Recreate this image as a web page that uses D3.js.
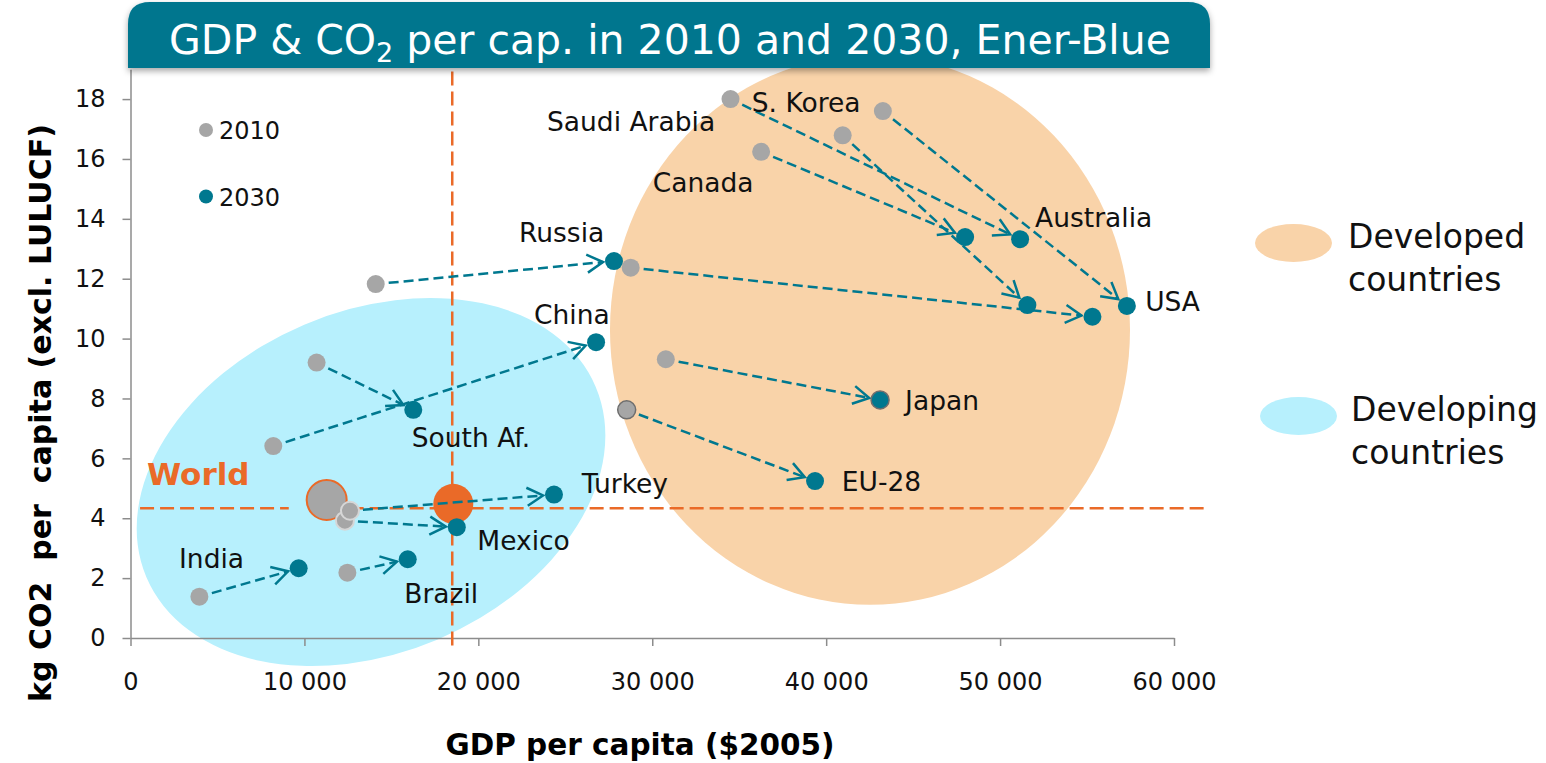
<!DOCTYPE html>
<html>
<head>
<meta charset="utf-8">
<script src="https://cdn.jsdelivr.net/npm/d3@7"></script>
<style>
  body { margin: 0; background: #fff; }
  svg { display: block; }
  text { font-family: "DejaVu Sans", Verdana, sans-serif; }
</style>
</head>
<body>
<svg id="chart" width="1546" height="763"></svg>
<script>
// ---- data ----
const countries = ["India", "Brazil", "Mexico", "Turkey", "China", "South Africa", "Russia",
                   "EU-28", "Japan", "Canada", "Australia", "Saudi Arabia", "USA", "S. Korea"];
const gdp2010 = [3960, 12470, 12330, 12620, 8210, 10700, 14100, 28530, 30780, 36260, 34500, 40950, 43260, 28760];
const co2_2010 = [1.38, 2.18, 3.92, 4.25, 6.41, 9.20, 11.82, 7.62, 9.31, 16.24, 18.0, 16.79, 17.60, 12.37];
const gdp2030 = [9670, 15940, 18760, 24350, 26770, 16260, 27800, 39360, 43100, 47990, 51150, 51570, 57290, 55310];
const co2_2030 = [2.33, 2.63, 3.70, 4.79, 9.88, 7.62, 12.59, 5.24, 7.95, 13.39, 13.32, 11.12, 11.09, 10.73];

// world average, 2010 and 2030
const worldGdp = [11280, 18560];
const worldCo2 = [4.61, 4.48];

// reference lines (world level)
const refGdp = 18500;
const refCo2 = 4.33;

// country labels, anchored in data units
const labelText = ["Saudi Arabia", "S. Korea", "Canada", "Russia", "China", "South Af.", "Turkey",
                   "Mexico", "India", "Brazil", "Japan", "EU-28", "Australia", "USA"];
const labelGdp = [23950, 35720, 30030, 22340, 23200, 16170, 25950, 19940, 2790, 15740, 44540, 40900, 52010, 58340];
const labelCo2 = [16.92, 17.58, 14.91, 13.24, 10.50, 6.37, 4.83, 2.94, 2.33, 1.16, 7.62, 4.91, 13.72, 10.92];

// shaded groups
const regionNames = ["Developed countries", "Developing countries"];
const regionGdp = [42520, 13830];
const regionCo2 = [10.29, 5.21];
const regionGdpRadius = [14950, 14030];
const regionCo2Radius = [9.18, 5.71];
const regionTilt = [0, -23];

const xTicks = [0, 10000, 20000, 30000, 40000, 50000, 60000];
const yTicks = [0, 2, 4, 6, 8, 10, 12, 14, 16, 18];

// ---- colours ----
const teal = "#00788f";
const grey = "#a6a6a6";
const orange = "#ea6a28";
const regionFill = ["#f9d3a9", "#b7f0fd"];
const axisGrey = "#8c8c8c";

const svg = d3.select("#chart");
const x = d3.scaleLinear().domain([0, 60000]).range([130.5, 1174]);
const y = d3.scaleLinear().domain([0, 19]).range([638, 638 - 19 * 29.94]);

const defs = svg.append("defs");
defs.append("marker")
  .attr("id", "arrow")
  .attr("viewBox", "-20 -12 22 24")
  .attr("refX", 0).attr("refY", 0)
  .attr("markerWidth", 22).attr("markerHeight", 24)
  .attr("markerUnits", "userSpaceOnUse")
  .attr("orient", "auto")
  .append("path")
  .attr("d", "M-16,-9 L0,0 L-16,9")
  .attr("fill", "none")
  .attr("stroke", teal)
  .attr("stroke-width", 2.5)
  .attr("stroke-dasharray", "none");

const shadow = defs.append("filter").attr("id", "shadow")
  .attr("x", "-5%").attr("y", "-20%").attr("width", "110%").attr("height", "150%");
shadow.append("feDropShadow").attr("dx", 0).attr("dy", 3).attr("stdDeviation", 3)
  .attr("flood-color", "#000").attr("flood-opacity", 0.35);

// 1) background group ellipses
regionNames.forEach((n, i) => {
  svg.append("ellipse")
    .attr("rx", x(regionGdpRadius[i]) - x(0))
    .attr("ry", y(0) - y(regionCo2Radius[i]))
    .attr("transform", `translate(${x(regionGdp[i])},${y(regionCo2[i])}) rotate(${regionTilt[i]})`)
    .attr("fill", regionFill[i]);
});

// 2) axes
const fmt = d => d3.format(",")(d).replace(/,/g, " ");
const xAxis = svg.append("g")
  .attr("transform", `translate(0,${y(0)})`)
  .call(d3.axisBottom(x).tickValues(xTicks).tickSize(8).tickSizeOuter(0).tickPadding(27).tickFormat(fmt));
const yAxis = svg.append("g")
  .attr("transform", `translate(${x(0)},0)`)
  .call(d3.axisLeft(y).tickValues(yTicks).tickSize(8).tickSizeOuter(0).tickPadding(17));
[xAxis, yAxis].forEach(a => {
  a.select(".domain").attr("stroke", axisGrey).attr("stroke-width", 1.5);
  a.selectAll(".tick line").attr("stroke", axisGrey).attr("stroke-width", 1.5);
  a.selectAll(".tick text")
    .attr("font-family", "DejaVu Sans, Verdana, sans-serif")
    .attr("font-size", 24)
    .attr("fill", "#111");
});

svg.append("text")
  .attr("x", 640).attr("y", 755)
  .attr("text-anchor", "middle")
  .attr("font-size", 29.5).attr("font-weight", "bold")
  .text("GDP per capita ($2005)");

svg.append("text")
  .attr("transform", "translate(51,413) rotate(-90)")
  .attr("text-anchor", "middle")
  .attr("font-size", 30).attr("font-weight", "bold")
  .style("white-space", "pre")
  .text("kg CO2  per  capita (excl. LULUCF)");

// 3) world reference lines
const refs = svg.append("g")
  .attr("stroke", orange).attr("stroke-width", 2.5)
  .attr("stroke-dasharray", "14,6").attr("fill", "none");
refs.append("line")
  .attr("x1", x(refGdp)).attr("x2", x(refGdp))
  .attr("y1", y(-0.25)).attr("y2", y(19.2));
[[550, 9100], [12600, 61800]].forEach(([a, b]) => {
  refs.append("line")
    .attr("x1", x(a)).attr("x2", x(b))
    .attr("y1", y(refCo2)).attr("y2", y(refCo2));
});

// 4) world bubbles
svg.append("circle")
  .attr("cx", x(worldGdp[0])).attr("cy", y(worldCo2[0])).attr("r", 20)
  .attr("fill", grey).attr("stroke", orange).attr("stroke-width", 2);
svg.append("circle")
  .attr("cx", x(worldGdp[1])).attr("cy", y(worldCo2[1])).attr("r", 20)
  .attr("fill", orange);

svg.append("text")
  .attr("x", x(950)).attr("y", y(5.11))
  .attr("font-size", 31).attr("font-weight", "bold")
  .attr("fill", orange)
  .text("World");

// 5) arrows 2010 -> 2030
const rows = countries.map((c, i) => ({
  name: c,
  x1: x(gdp2010[i]), y1: y(co2_2010[i]),
  x2: x(gdp2030[i]), y2: y(co2_2030[i])
}));

svg.append("g").selectAll("line")
  .data(rows)
  .enter()
  .append("line")
  .each(function (d) {
    const dx = d.x2 - d.x1, dy = d.y2 - d.y1;
    const len = Math.hypot(dx, dy);
    const ux = dx / len, uy = dy / len;
    d3.select(this)
      .attr("x1", d.x1 + ux * 13).attr("y1", d.y1 + uy * 13)
      .attr("x2", d.x2 - ux * 11).attr("y2", d.y2 - uy * 11);
  })
  .attr("stroke", teal)
  .attr("stroke-width", 2.5)
  .attr("stroke-dasharray", "10,5")
  .attr("marker-end", "url(#arrow)");

// 6) points (a few carry an outline in the original)
const outline2010 = { "Turkey": ["#d6d6d6", 2], "Mexico": ["#d6d6d6", 2], "EU-28": ["#6e6e6e", 1.5] };
const outline2030 = { "Japan": ["#6e6e6e", 1.5] };

svg.append("g").selectAll("circle")
  .data(rows)
  .enter()
  .append("circle")
  .attr("cx", d => d.x1).attr("cy", d => d.y1).attr("r", 9)
  .attr("fill", grey)
  .attr("stroke", d => outline2010[d.name] ? outline2010[d.name][0] : "none")
  .attr("stroke-width", d => outline2010[d.name] ? outline2010[d.name][1] : 0);

svg.append("g").selectAll("circle")
  .data(rows)
  .enter()
  .append("circle")
  .attr("cx", d => d.x2).attr("cy", d => d.y2).attr("r", 9)
  .attr("fill", teal)
  .attr("stroke", d => outline2030[d.name] ? outline2030[d.name][0] : "none")
  .attr("stroke-width", d => outline2030[d.name] ? outline2030[d.name][1] : 0);

// 7) country labels
svg.append("g").selectAll("text")
  .data(labelText)
  .enter()
  .append("text")
  .attr("x", (d, i) => x(labelGdp[i]))
  .attr("y", (d, i) => y(labelCo2[i]))
  .attr("font-size", 26.5)
  .attr("fill", "#111")
  .text(d => d);

// 8) year legend (top left)
const yearLeg = svg.append("g");
[["2010", grey, 130], ["2030", teal, 196.5]].forEach(([t, c, cy]) => {
  yearLeg.append("circle").attr("cx", 206).attr("cy", cy).attr("r", 7).attr("fill", c);
  yearLeg.append("text").attr("x", 219).attr("y", cy + 9)
    .attr("font-size", 24).attr("fill", "#111").text(t);
});

// 9) group legend (right)
const grpLeg = svg.append("g");
[[243, 1293.5, 1348], [416, 1298.5, 1351]].forEach(([cy, cx, tx], i) => {
  grpLeg.append("ellipse").attr("cx", cx).attr("cy", cy).attr("rx", 38.5).attr("ry", 19)
    .attr("fill", regionFill[i]);
  const words = regionNames[i].split(" ");
  const t = grpLeg.append("text")
    .attr("x", tx).attr("y", cy + 5)
    .attr("font-family", "Liberation Sans, Arial, sans-serif")
    .attr("font-size", 33).attr("fill", "#111");
  words.forEach((w, k) => {
    t.append("tspan").attr("x", tx).attr("dy", k === 0 ? 0 : 43).text(w);
  });
});

// 10) title banner
svg.append("path")
  .attr("d", "M128,68 V24 Q128,2 150,2 H1188 Q1210,2 1210,24 V68 Z")
  .attr("fill", "#00768e")
  .attr("filter", "url(#shadow)");

const title = svg.append("text")
  .attr("x", 670).attr("y", 54)
  .attr("text-anchor", "middle")
  .attr("font-size", 41)
  .attr("fill", "#fff");
title.append("tspan").text("GDP & CO");
title.append("tspan").attr("font-size", 27).attr("dy", 8).text("2");
title.append("tspan").attr("dy", -8).text(" per cap. in 2010 and 2030, Ener-Blue");
</script>
</body>
</html>
